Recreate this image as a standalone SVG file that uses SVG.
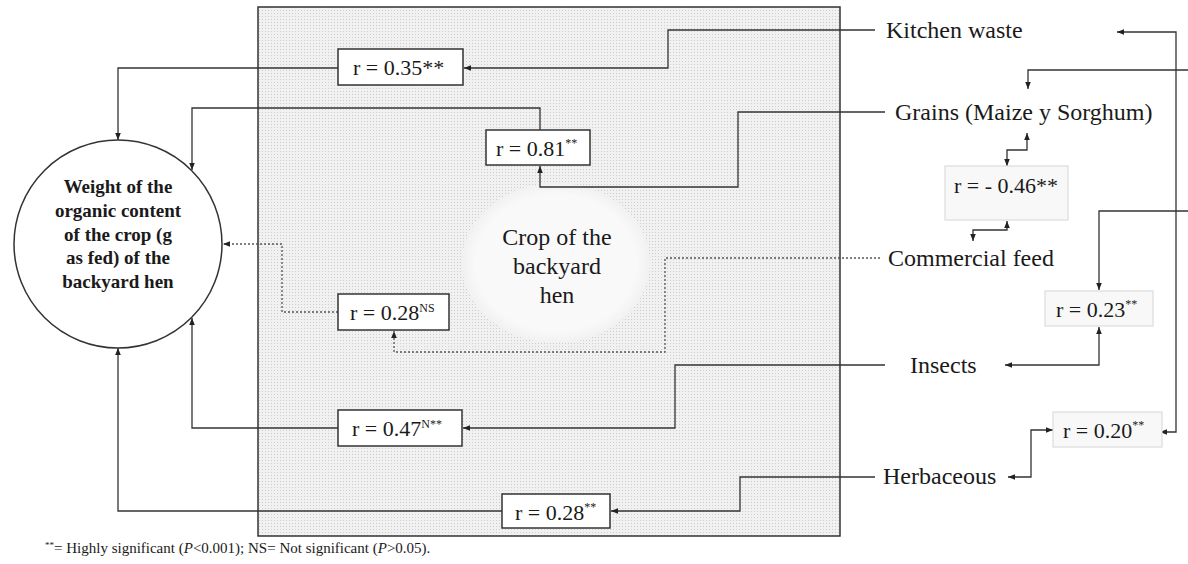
<svg xmlns="http://www.w3.org/2000/svg" width="1188" height="564" viewBox="0 0 1188 564">
<defs>
<pattern id="dots" width="3" height="3" patternUnits="userSpaceOnUse">
<rect width="3" height="3" fill="#f1f1f1"/>
<rect x="1" y="1" width="1" height="1" fill="#cdcdcd"/>
</pattern>
<radialGradient id="eg" cx="0.5" cy="0.5" r="0.5">
<stop offset="0.85" stop-color="#f9f9f9"/>
<stop offset="1" stop-color="#f1f1f1"/>
</radialGradient>
<marker id="ah" viewBox="0 0 10 10" refX="10" refY="5" markerWidth="7" markerHeight="7" orient="auto-start-reverse" markerUnits="userSpaceOnUse">
<path d="M0,1 L10,5 L0,9 z" fill="#222"/>
</marker>
</defs>
<style>
text{font-family:"Liberation Serif","Times New Roman",serif;fill:#1a1a1a}
.lbl{font-size:22px}
.big{font-size:24px}
.sup{font-size:12px}
.c{stroke:#333;stroke-width:1.3;fill:none;marker-end:url(#ah)}
.both{marker-start:url(#ah)}
.dot{stroke-dasharray:2 2;stroke:#555}
.box{fill:#fff;stroke:#333;stroke-width:1.5}
.lbox{fill:#f8f8f8;stroke:#dcdcdc;stroke-width:1.2}
.title{font-size:19px;font-weight:bold;text-anchor:middle}
</style>
<rect width="1188" height="564" fill="#fff"/>

<g id="crop-area">
<rect x="258" y="7" width="582" height="529" fill="url(#dots)" stroke="#333" stroke-width="1.5"/>
<ellipse cx="556" cy="263" rx="94" ry="80" fill="url(#eg)"/>
<text class="big" x="557" y="245" text-anchor="middle">Crop of the</text>
<text class="big" x="557" y="274" text-anchor="middle">backyard</text>
<text class="big" x="557" y="303" text-anchor="middle">hen</text>
</g>

<g id="weight">
<circle cx="118" cy="244" r="104" fill="#fff" stroke="#333" stroke-width="1.5"/>
<text class="title" x="118" y="193">Weight of the</text>
<text class="title" x="118" y="217">organic content</text>
<text class="title" x="118" y="241">of the crop (g</text>
<text class="title" x="118" y="264">as fed) of the</text>
<text class="title" x="118" y="288">backyard  hen</text>
</g>

<g id="connectors">
<path class="c" d="M875,30 H668 V68 H464"/>
<path class="c" d="M338,68 H118 V140"/>
<path class="c" d="M885,112 H738 V187 H540 V166"/>
<path class="c" d="M540,130 V108 H192 V170"/>
<path class="c dot" d="M880,258 H665 V352 H394 V331"/>
<path class="c dot" d="M338,312 H282 V244 H223"/>
<path class="c" d="M885,365 H675 V428 H463"/>
<path class="c" d="M338,428 H192 V318"/>
<path class="c" d="M875,477 H740 V511 H611"/>
<path class="c" d="M502,511 H118 V348"/>
<path class="c both" d="M1117,32 H1176 V432 H1160"/>
<path class="c" d="M1188,70 H1028 V89"/>
<path class="c" d="M1188,211 H1099 V290"/>
<path class="c both" d="M1099,327 V365 H1005"/>
<path class="c both" d="M1053,430 H1031 V477 H1008"/>
<path class="c both" d="M1027,133 V150 H1007 V166"/>
<path class="c both" d="M1007,221 V230 H973 V241"/>
</g>

<g id="r035">
<rect class="box" x="338" y="49" width="125" height="36"/>
<text class="lbl" x="353" y="75">r = 0.35**</text>
</g>
<g id="r081">
<rect class="box" x="486" y="130" width="104" height="35"/>
<text class="lbl" x="496" y="156">r = 0.81<tspan class="sup" dy="-9">**</tspan></text>
</g>
<g id="r028ns">
<rect class="box" x="338" y="294" width="111" height="36"/>
<text class="lbl" x="350" y="320">r = 0.28<tspan class="sup" font-size="13" dy="-8">NS</tspan></text>
</g>
<g id="r047">
<rect class="box" x="338" y="410" width="124" height="36"/>
<text class="lbl" x="352" y="436">r = 0.47<tspan class="sup" font-size="13" dy="-8">N**</tspan></text>
</g>
<g id="r028">
<rect class="box" x="502" y="494" width="108" height="34"/>
<text class="lbl" x="515" y="520">r = 0.28<tspan class="sup" dy="-9">**</tspan></text>
</g>

<g id="kitchen"><text class="big" x="886" y="38">Kitchen waste</text></g>
<g id="grains"><text class="big" x="895" y="120">Grains (Maize y Sorghum)</text></g>
<g id="commercial"><text class="big" x="888" y="266">Commercial feed</text></g>
<g id="insects"><text class="big" x="910" y="373">Insects</text></g>
<g id="herbaceous"><text class="big" x="883" y="484">Herbaceous</text></g>

<g id="rm046">
<rect class="lbox" x="945" y="166" width="123" height="54"/>
<text class="lbl" x="954" y="193">r = - 0.46**</text>
</g>
<g id="r023">
<rect class="lbox" x="1045" y="291" width="108" height="35"/>
<text class="lbl" x="1056" y="317">r = 0.23<tspan class="sup" dy="-9">**</tspan></text>
</g>
<g id="r020">
<rect class="lbox" x="1053" y="412" width="109" height="35"/>
<text class="lbl" x="1063" y="438">r = 0.20<tspan class="sup" dy="-9">**</tspan></text>
</g>

<g id="footnote">
<text x="45" y="553" font-size="15"><tspan font-size="9" dy="-5">**</tspan><tspan dy="5">= Highly significant (</tspan><tspan font-style="italic">P</tspan>&lt;0.001); NS= Not significant (<tspan font-style="italic">P</tspan>&gt;0.05).</text>
</g>
</svg>
